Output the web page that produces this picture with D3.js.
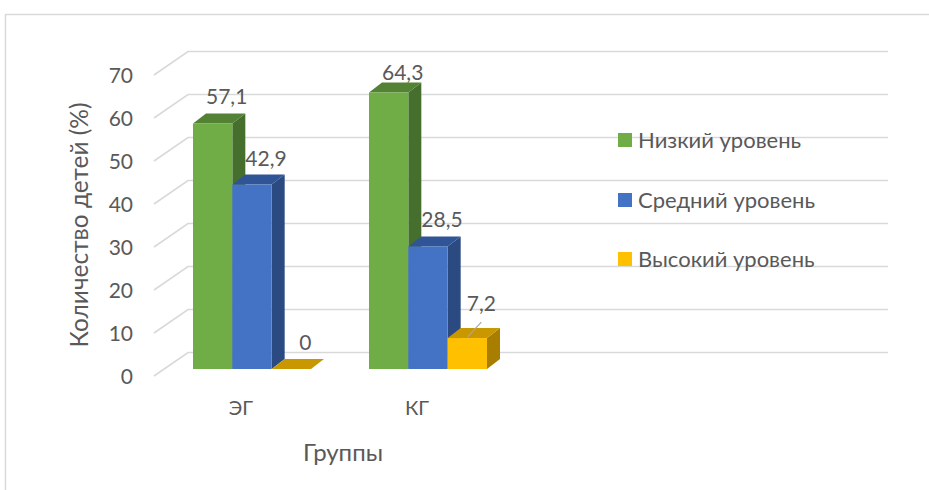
<!DOCTYPE html>
<html><head><meta charset="utf-8">
<script src="https://cdn.jsdelivr.net/npm/d3@7"></script>
<style>html,body{margin:0;padding:0;background:#fff;}svg{display:block;}</style>
</head><body>
<svg id="c" width="929" height="490"></svg>
<script>
const categories = ["ЭГ", "КГ"];
const seriesNames = ["Низкий уровень", "Средний уровень", "Высокий уровень"];
const lowValues = [57.1, 64.3];
const midValues = [42.9, 28.5];
const highValues = [0, 7.2];
const valueLabels = [["57,1", "64,3"], ["42,9", "28,5"], ["0", "7,2"]];
const yTicks = [0, 10, 20, 30, 40, 50, 60, 70];
const yTitle = "Количество детей (%)";
const xTitle = "Группы";

const seriesValues = [lowValues, midValues, highValues];
const colors = [
  {front: "#70ad47", top: "#548235", side: "#466e2d"},
  {front: "#4472c4", top: "#2f5597", side: "#2b4a82"},
  {front: "#ffc000", top: "#c99700", side: "#a87e00"}
];
const FONT = "Lato, 'Open Sans', sans-serif";
const TXT = "#595959";

const svg = d3.select("#c");
// chart border
svg.append("rect").attr("x", 5.5).attr("y", 14.5).attr("width", 940).attr("height", 500)
  .attr("fill", "none").attr("stroke", "#d9d9d9").attr("stroke-width", 1.5);

// scales
const yFront = d3.scaleLinear().domain([0, 70]).range([376, 75]);
const gridDX = 34, gridDY = -23.5;
const frontX = 154, backRight = 888;
const barShiftY = -7;     // bar front plane relative to front grid plane
const barDX = 13, barDY = -10;

const x0 = d3.scaleBand().domain(categories).range([164, 516]).paddingInner(0).paddingOuter(0);
const x1 = d3.scaleBand().domain(seriesNames).range([0, x0.bandwidth()]).paddingInner(0).paddingOuter(0.737);

// gridlines
const grid = svg.append("g");
yTicks.forEach(t => {
  const yf = yFront(t);
  grid.append("path")
    .attr("d", `M${frontX},${yf} L${frontX + gridDX},${yf + gridDY} L${backRight},${yf + gridDY}`)
    .attr("fill", "none").attr("stroke", "#d9d9d9").attr("stroke-width", 1.6);
  grid.append("text").attr("x", 133).attr("y", yf).attr("dy", "0.36em")
    .attr("text-anchor", "end").attr("font-family", FONT).attr("font-size", 21)
    .attr("fill", TXT).text(t);
});

// bars
const bars = svg.append("g");
const labels = svg.append("g");
categories.forEach((cat, ci) => {
  seriesNames.forEach((s, si) => {
    const v = seriesValues[si][ci];
    const xl = x0(cat) + x1(s);
    const xr = xl + x1.bandwidth();
    const yb = yFront(0) + barShiftY;
    const yt = yFront(v) + barShiftY;
    const c = colors[si];
    // side
    bars.append("path")
      .attr("d", `M${xr},${yb} L${xr + barDX},${yb + barDY} L${xr + barDX},${yt + barDY} L${xr},${yt} Z`)
      .attr("fill", c.side);
    // top
    bars.append("path")
      .attr("d", `M${xl},${yt} L${xl + barDX},${yt + barDY} L${xr + barDX},${yt + barDY} L${xr},${yt} Z`)
      .attr("fill", c.top);
    // front
    if (v > 0) {
      bars.append("rect").attr("x", xl).attr("y", yt).attr("width", xr - xl).attr("height", yb - yt)
        .attr("fill", c.front);
    }
    // label
    const cx = (xl + xr) / 2 + 14;
    let base = yt + barDY - 9;
    base = Math.max(base, 80);
    const small = v > 0 && v < 10;
    if (small) base -= 8;
    labels.append("text").attr("x", cx).attr("y", base).attr("text-anchor", "middle")
      .attr("font-family", FONT).attr("font-size", 21).attr("fill", TXT)
      .text(valueLabels[si][ci]);
    if (small) {
      labels.append("line").attr("x1", cx).attr("y1", base + 11)
        .attr("x2", (xl + xr) / 2).attr("y2", yt - 1)
        .attr("stroke", "#a6a6a6").attr("stroke-width", 1.2);
    }
  });
  // category label
  svg.append("text").attr("x", x0(cat) + x0.bandwidth() / 2 - 11).attr("y", 415)
    .attr("text-anchor", "middle").attr("font-family", FONT).attr("font-size", 20)
    .attr("fill", TXT).text(cat);
});

// axis titles
svg.append("text").attr("transform", "translate(88,225) rotate(-90)")
  .attr("text-anchor", "middle").attr("font-family", FONT).attr("font-size", 24.5)
  .attr("fill", TXT).text(yTitle);
svg.append("text").attr("x", 343).attr("y", 461).attr("text-anchor", "middle")
  .attr("font-family", FONT).attr("font-size", 24).attr("fill", TXT).text(xTitle);

// legend
const legendY = [140, 200, 259];
seriesNames.forEach((s, i) => {
  svg.append("rect").attr("x", 618).attr("y", legendY[i] - 7).attr("width", 14).attr("height", 14)
    .attr("fill", colors[i].front);
  svg.append("text").attr("x", 638).attr("y", legendY[i]).attr("dy", "0.35em")
    .attr("font-family", FONT).attr("font-size", 22).attr("fill", TXT).text(s);
});
</script>
</body></html>
